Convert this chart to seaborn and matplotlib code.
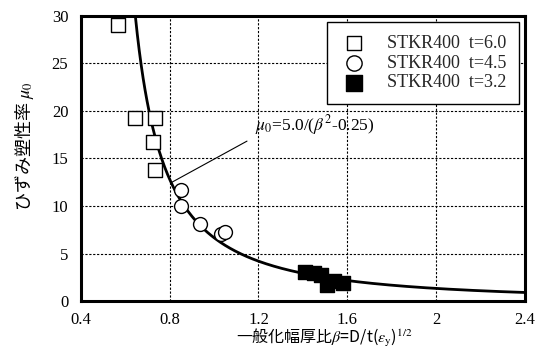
import numpy as np
import pandas as pd
import matplotlib
matplotlib.use("Agg")
import matplotlib.pyplot as plt
import seaborn as sns

# --- data ---
sq60_beta = [0.569, 0.644, 0.735, 0.723, 0.732]
sq60_mu = [29.05, 19.27, 19.27, 16.7, 13.8]
ci45_beta = [0.852, 0.852, 0.935, 1.032, 1.048]
ci45_mu = [11.66, 10.0, 8.06, 7.07, 7.24]
fs32_beta = [1.41, 1.45, 1.48, 1.51, 1.54, 1.58]
fs32_mu = [3.1, 3.0, 2.7, 1.7, 2.1, 1.9]

series_labels = ["STKR400  t=6.0", "STKR400  t=4.5", "STKR400  t=3.2"]

# fitted curve mu0 = a / (beta^2 - b) as printed on the chart
coef_a = 5.0
coef_b = 0.25

x_ticks = [0.4, 0.8, 1.2, 1.6, 2.0, 2.4]
x_ticklabels = ["0.4", "0.8", "1.2", "1.6", "2", "2.4"]
y_ticks = [0, 5, 10, 15, 20, 25, 30]

sns.set_theme(style="white")
plt.rcParams["font.family"] = ["Liberation Serif", "Noto Sans CJK JP", "DejaVu Sans"]
plt.rcParams["mathtext.fontset"] = "stix"

fig = plt.figure(figsize=(5.46, 3.53), dpi=100)
ax = fig.add_axes([0.148, 0.147, 0.9615 - 0.148, 0.955 - 0.147])

# curve
beta_start = np.sqrt(coef_a / 30.0 + coef_b)
beta_curve = np.linspace(beta_start, 2.4, 400)
curve_df = pd.DataFrame({"beta": beta_curve, "mu": coef_a / (beta_curve ** 2 - coef_b)})
sns.lineplot(data=curve_df, x="beta", y="mu", ax=ax, color="black", lw=2.0, zorder=3,
             legend=False)

df_sq = pd.DataFrame({"beta": sq60_beta, "mu": sq60_mu})
df_ci = pd.DataFrame({"beta": ci45_beta, "mu": ci45_mu})
df_fs = pd.DataFrame({"beta": fs32_beta, "mu": fs32_mu})

sns.scatterplot(data=df_sq, x="beta", y="mu", ax=ax, marker="s", s=90,
                facecolor="white", edgecolor="black", linewidth=1.0, zorder=4,
                label=series_labels[0])
sns.scatterplot(data=df_ci, x="beta", y="mu", ax=ax, marker="o", s=100,
                facecolor="white", edgecolor="black", linewidth=1.0, zorder=4,
                label=series_labels[1])
sns.scatterplot(data=df_fs, x="beta", y="mu", ax=ax, marker="s", s=100,
                facecolor="black", edgecolor="black", linewidth=1.0, zorder=4,
                label=series_labels[2])

ax.set_xlim(0.4, 2.4)
ax.set_ylim(0, 30)
ax.set_xticks(x_ticks)
ax.set_xticklabels(x_ticklabels)
ax.set_yticks(y_ticks)
ax.tick_params(axis="x", length=0, labelsize=12, pad=8, colors="black")
ax.tick_params(axis="y", length=0, labelsize=12, pad=9, colors="black")

ax.grid(True, color="black", linestyle=(0, (2.0, 1.5)), linewidth=0.8)
ax.set_axisbelow(True)
for sp in ax.spines.values():
    sp.set_visible(True)
    sp.set_color("black")
    sp.set_linewidth(2.2)

cjk = ["Noto Sans CJK JP", "DejaVu Sans"]
ax.set_xlabel("一般化幅厚比$\\beta$=D/t($\\varepsilon_{\\rm y}$)$^{1/2}$", fontsize=11.5,
              color="black", family=cjk, va="center")
ax.xaxis.set_label_coords(0.549, -0.13)
ax.set_ylabel("ひずみ塑性率 $\\mu_{\\rm 0}$", fontsize=13, color="black", family=cjk,
              va="center")
ax.yaxis.set_label_coords(-0.126, 0.544)

ax.annotate("$\\mu_{\\rm 0}$=5.0/($\\beta^{2}$-0.25)", xy=(0.81, 12.5), xytext=(1.185, 18.56),
            fontsize=12.5, va="center", ha="left", color="black",
            arrowprops=dict(arrowstyle="-", color="black", lw=0.8, shrinkA=4, shrinkB=0,
                            relpos=(0, 0)))

leg = ax.legend(loc="upper right", fontsize=13, frameon=True, fancybox=False,
                edgecolor="black", framealpha=1, borderaxespad=0.35, handletextpad=1.0,
                labelspacing=0.15, borderpad=0.7, markerscale=1.1, handlelength=1.6)
leg.get_frame().set_linewidth(1.0)

fig.savefig("out.png", dpi=100)
